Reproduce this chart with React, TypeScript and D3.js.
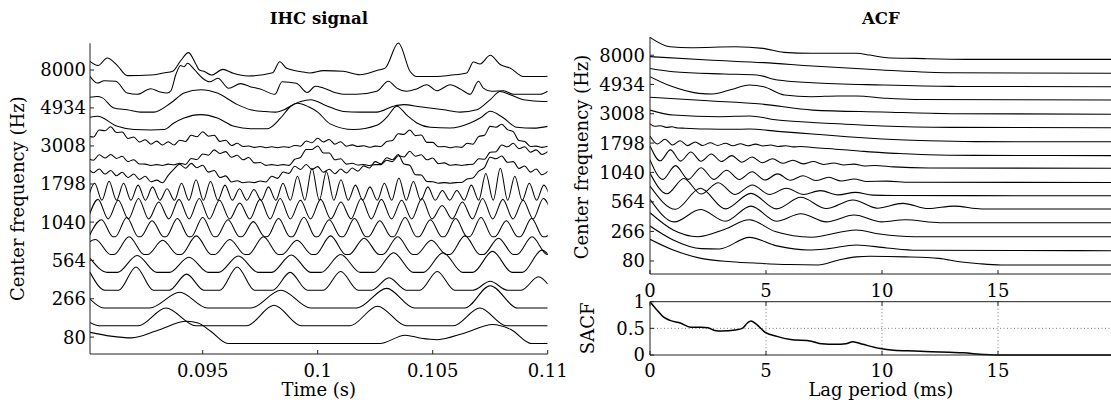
import * as d3 from "d3"

// ---- axis ticks ----
const freqTicks = [80, 266, 564, 1040, 1798, 3008, 4934, 8000]
const timeTicks = [95, 100, 105, 110] // ms
const timeTickLabels = ["0.095", "0.1", "0.105", "0.11"]
const lagTicks = [0, 5, 10, 15]
const sacfTicks = [0, 0.5, 1]

// ---- IHC signal, one list per channel: [time (ms), amplitude] ----
const ihc00 = [[90.1,0.63],[91.0,0.42],[91.9,0.32],[93.0,0.72],[94.3,1.25],[94.8,1.16],[95.35,0.69],[96.1,0],[102.7,0],[103.8,0.47],[104.5,0.3],[105.2,0.22],[106.4,0.6],[107.6,1.07],[108.4,0.79],[109.3,0],[110,0]]
const ihc01 = [[90.1,0.19],[90.5,0],[92.2,0],[93.4,1.0],[94.7,0],[96.9,0],[98.1,1.15],[99.3,0],[101.4,0],[102.6,1.1],[103.85,0],[105.9,0],[107.05,1.0],[108.2,0],[110,0]]
const ihc02 = [[90.1,0.5],[90.7,0],[92.7,0],[94.0,0.88],[95.2,0],[97.1,0],[98.4,1.0],[99.7,0],[101.7,0],[103.0,1.1],[104.2,0],[106.4,0],[107.5,1.25],[108.7,0],[110,0]]
const ihc03 = [[90.1,1.0],[90.75,0],[91.35,0],[92.1,1.3],[92.85,0],[93.55,0],[94.3,0.9],[95.05,0],[95.75,0],[96.5,1.3],[97.25,0],[98.05,0],[98.8,1.0],[99.55,0],[100.25,0],[101.0,1.05],[101.75,0],[102.35,0],[103.1,0.7],[103.85,0],[104.45,0],[105.2,1.05],[105.95,0],[106.75,0],[107.5,0.5],[108.25,0],[108.85,0],[109.6,0.75],[110.0,0.35]]
const ihc04 = [[90.1,0.8],[90.85,0],[91.3,0],[92.15,0.95],[93.0,0],[93.55,0],[94.4,0.85],[95.25,0],[95.7,0],[96.55,0.92],[97.4,0],[98.0,0],[98.85,0.98],[99.7,0],[100.15,0],[101.0,1.0],[101.85,0],[102.45,0],[103.3,1.1],[104.15,0],[104.6,0],[105.45,1.1],[106.3,0],[106.75,0],[107.6,1.18],[108.45,0],[108.9,0],[109.75,1.25],[110.1,0.9]]
const ihc05 = [[89.61,0],[90.34,0.85],[91.0,0],[91.14,0],[91.8,1.0],[92.46,0],[92.6,0],[93.26,0.8],[93.92,0],[94.06,0],[94.72,1.05],[95.38,0],[95.52,0],[96.18,0.85],[96.84,0],[96.98,0],[97.64,1.0],[98.3,0],[98.44,0],[99.1,0.8],[99.76,0],[99.9,0],[100.56,1.05],[101.22,0],[101.36,0],[102.02,0.92],[102.68,0],[102.82,0],[103.48,1.0],[104.14,0],[104.28,0],[104.94,0.8],[105.6,0],[105.74,0],[106.4,1.05],[107.06,0],[107.2,0],[107.86,0.92],[108.52,0],[108.66,0],[109.32,1.0],[109.98,0],[110.12,0]]
const ihc06 = [[90.05,0],[90.6,0.95],[91.1,0],[91.2,0],[91.7,1.08],[92.2,0],[92.3,0],[92.8,0.9],[93.3,0],[93.4,0],[93.9,1.02],[94.4,0],[94.5,0],[95.0,1.08],[95.5,0],[95.6,0],[96.1,0.95],[96.6,0],[96.7,0],[97.2,0.85],[97.7,0],[97.8,0],[98.3,1.02],[98.8,0],[98.9,0],[99.4,1.1],[99.9,0],[100.0,0],[100.5,0.95],[101.0,0],[101.1,0],[101.6,1.02],[102.1,0],[102.2,0],[102.7,0.9],[103.2,0],[103.3,0],[103.8,1.08],[104.3,0],[104.4,0],[104.9,0.95],[105.4,0],[105.5,0],[106.0,1.02],[106.5,0],[106.6,0],[107.1,1.08],[107.6,0],[107.7,0],[108.2,0.9],[108.7,0],[108.8,0],[109.3,1.02],[109.8,0],[109.9,0],[110.4,0.95]]
const ihc07 = [[90.01,0],[90.45,1.1],[90.89,0],[91.33,1.05],[91.77,0],[92.21,1.15],[92.65,0],[93.09,0.95],[93.53,0],[93.97,1.1],[94.41,0],[94.85,1.15],[95.29,0],[95.73,1.05],[96.17,0],[96.61,0.9],[97.05,0],[97.49,1.1],[97.93,0],[98.37,1.15],[98.81,0],[99.25,1.05],[99.69,0],[100.13,1.1],[100.57,0],[101.01,0.95],[101.45,0],[101.89,1.15],[102.33,0],[102.77,1.1],[103.21,0],[103.65,1.05],[104.09,0],[104.53,1.15],[104.97,0],[105.41,0.75],[105.85,0],[106.29,0.95],[106.73,0],[107.17,1.15],[107.61,0],[108.05,1.1],[108.49,0],[108.93,1.05],[109.37,0],[109.81,1.15],[110.25,0]]
const ihc08 = [[89.99,0.05],[90.3,1.0],[90.62,0.05],[90.93,1.12],[91.25,0.05],[91.56,1.0],[91.88,0.05],[92.19,0.9],[92.51,0.05],[92.82,0.8],[93.14,0.05],[93.45,0.7],[93.77,0.05],[94.08,1.0],[94.4,0.05],[94.71,1.2],[95.03,0.05],[95.34,1.1],[95.66,0.05],[95.97,0.9],[96.29,0.05],[96.6,0.7],[96.92,0.05],[97.23,0.65],[97.55,0.05],[97.86,0.8],[98.18,0.05],[98.49,1.0],[98.81,0.05],[99.12,1.4],[99.44,0.05],[99.75,1.85],[100.07,0.05],[100.38,1.65],[100.7,0.05],[101.01,1.2],[101.33,0.05],[101.64,0.9],[101.96,0.05],[102.27,0.8],[102.59,0.05],[102.9,1.0],[103.22,0.05],[103.53,1.3],[103.85,0.05],[104.16,1.1],[104.48,0.05],[104.79,0.8],[105.11,0.05],[105.42,0.6],[105.74,0.05],[106.05,0.6],[106.37,0.05],[106.68,0.9],[107.0,0.05],[107.31,1.55],[107.63,0.05],[107.94,1.85],[108.26,0.05],[108.57,1.4],[108.89,0.05],[109.2,1.0],[109.52,0.05],[109.83,0.9],[110.15,0.05]]
// channels 9-11 are read on a 0.25 ms grid starting at 90 ms
const ihc09 = [0.87,0.6,0.8,0.52,0.72,0.43,0.62,0.33,0.52,0.22,0.4,0.09,0.18,0.03,0.45,0.8,1.07,0.85,1.12,0.88,1.02,0.63,0.72,0.33,0.42,0.08,0.15,0.03,0.08,0.04,0.13,0.08,0.4,0.28,0.64,0.56,0.96,0.78,1.06,0.78,0.94,0.62,0.79,0.54,0.8,0.58,0.86,0.68,0.98,0.86,1.22,1.1,1.44,1.33,1.62,1.08,1.02,0.48,0.47,0.1,0.09,0.01,0.04,0.01,0.04,0.05,0.24,0.3,0.68,0.88,1.47,1.38,1.54,1.18,1.22,0.83,0.97,0.63,0.8,0.48,0.67]
const ihc10 = [0.4,0.3,0.6,0.42,0.62,0.4,0.52,0.22,0.33,0.09,0.08,0,0.05,0,0.08,0.04,0.13,0.06,0.4,0.34,0.65,0.58,0.88,0.68,0.78,0.46,0.58,0.32,0.45,0.15,0.17,0.01,0.05,0,0.05,0.01,0.35,0.45,0.9,0.9,1.1,0.7,0.7,0.32,0.38,0.08,0.13,0.03,0.06,0,0.05,0.05,0.3,0.22,0.55,0.48,0.8,0.52,0.6,0.32,0.42,0.1,0.15,0.02,0.05,0,0.05,0.07,0.38,0.35,0.75,0.78,1.15,1.05,1.25,0.95,1.05,0.75,0.88,0.62,0.78]
const ihc11 = [0.65,0.6,1.0,0.95,1.18,0.85,0.88,0.52,0.6,0.32,0.45,0.2,0.37,0.15,0.34,0.15,0.42,0.35,0.7,0.62,0.9,0.65,0.7,0.35,0.42,0.12,0.25,0.07,0.1,0.02,0.07,0,0.05,0,0.05,0.02,0.13,0.08,0.38,0.28,0.53,0.32,0.46,0.2,0.34,0.08,0.16,0.07,0.11,0.03,0.09,0.07,0.35,0.4,0.78,0.75,1.0,0.68,0.72,0.3,0.3,0.05,0.07,0,0.06,0.02,0.25,0.2,0.63,0.7,1.2,1.15,1.32,1.02,0.9,0.4,0.35,0.07,0.09,0.02,0.08]
const ihc12 = [[90.1,0.71],[90.42,0.77],[91.29,0.2],[92.01,0.02],[92.74,0],[93.32,0.02],[93.75,0.39],[94.19,0.67],[94.91,0.86],[95.64,0.67],[96.36,0.2],[97.09,0.07],[97.81,0.07],[98.39,0.67],[98.83,1.33],[99.12,1.5],[99.6,1.3],[100.0,1.0],[100.54,0.34],[101.55,0.02],[102.57,0.26],[103.0,0.7],[103.44,1.33],[103.9,0.8],[104.31,0.39],[104.89,0.15],[105.76,0.11],[106.63,0.39],[107.1,0.7],[107.5,1.05],[108.08,0.67],[108.66,0.15],[109.4,0.1],[110,0.2]]
const ihc13 = [[90.1,0.83],[90.42,0.88],[90.64,0.8],[91.14,0.23],[91.72,0.13],[92.3,0],[92.88,0],[93.61,0.51],[94.19,1.07],[94.91,1.26],[95.64,1.07],[96.51,0.42],[97.09,0.13],[97.67,0.04],[98.17,0],[98.54,0.13],[98.97,0.45],[99.26,0.6],[99.7,0.7],[100.4,0.35],[101.12,0.04],[101.84,0],[102.57,0],[103.29,0.33],[103.73,0.42],[104.45,0.3],[105.47,0.13],[106.19,0],[106.92,0.13],[107.5,0.7],[107.93,1.16],[108.37,0.98],[108.95,0.7],[109.81,0.6],[110,0.6]]
const ihc14 = [[90.1,1.01],[90.42,0.63],[90.71,0.76],[91.22,0.73],[91.72,0.07],[92.16,0],[92.74,0.31],[93.1,0.15],[93.45,0.07],[93.62,0.2],[93.83,1.1],[94.04,1.62],[94.19,1.55],[94.34,1.74],[94.65,1.37],[95.0,0.9],[95.3,0.7],[95.66,0.9],[96.13,0.34],[96.65,0.6],[97.06,0.43],[97.5,0.3],[98.14,0],[98.45,0.71],[99.07,0.62],[99.55,0.1],[99.9,0.45],[100.25,0.35],[100.83,0.07],[101.12,0],[101.7,0],[102.57,0.17],[103.07,0.73],[103.44,0.35],[103.87,0.17],[104.3,0.3],[104.74,0.54],[105.18,0.2],[105.76,0.54],[106.2,0.3],[106.63,0],[106.99,0.73],[107.2,0.35],[107.57,0.17],[108.08,0.2],[108.51,0],[109.67,0],[110.0,0.17]]
const ihc15 = [[90.1,0.85],[90.45,0.62],[90.85,1.04],[91.3,0.6],[91.72,0.05],[92.74,0.08],[93.3,0.2],[93.7,0.3],[94.05,0.9],[94.38,1.34],[94.7,0.7],[94.84,0.38],[95.09,0.27],[95.39,0.08],[95.87,0.4],[96.33,0.18],[96.96,0.03],[98.04,0.21],[98.35,0.83],[98.65,0.46],[99.29,0.27],[99.67,0.2],[100.25,0.33],[101.1,0.29],[101.84,0.1],[102.6,0.35],[102.93,0.47],[103.51,1.88],[104.02,0.28],[104.3,0],[105.2,0],[105.75,0.07],[106.48,0.2],[106.77,0.81],[107.06,0.7],[107.5,1.19],[107.95,0.66],[108.36,0.48],[108.94,0],[109.8,0],[110.0,0.02]]

// ---- ACF per channel: [lag (ms), value] ----
const acf00 = [[0,1.58],[1.0,0.8],[2.2,0.19],[3.5,-0.05],[4.73,-0.17],[6.0,-0.26],[7.25,-0.29],[8.1,0.05],[8.9,0.3],[9.5,0.34],[11.0,0.3],[12.45,0.19],[13.34,-0.05],[14.2,-0.2],[15.13,-0.29],[19.9,-0.29]]
const acf01 = [[0,1.55],[1.0,0.53],[2.2,-0.1],[3.0,-0.12],[4.28,0.72],[5.47,0.1],[6.8,-0.2],[7.6,-0.12],[8.89,0.17],[10.2,-0.05],[11.5,-0.22],[19.9,-0.25]]
const acf02 = [[0,1.52],[1.0,0.26],[2.05,-0.23],[3.2,0.3],[4.28,1.0],[5.4,0.14],[6.95,-0.27],[8.89,0.26],[9.9,-0.03],[11.4,-0.23],[19.9,-0.24]]
const acf03 = [[0,1.5],[1.05,-0.15],[2.17,0.75],[3.25,-0.1],[4.35,1.0],[5.45,-0.1],[6.5,0.45],[7.6,-0.15],[8.8,0.35],[10.0,-0.15],[11.0,0.0],[12.5,-0.21],[19.9,-0.21]]
const acf04 = [[0,1.46],[1.1,-0.23],[2.17,1.3],[3.25,-0.2],[4.35,0.93],[5.45,-0.2],[6.5,0.64],[7.6,-0.18],[8.75,0.45],[9.8,-0.15],[10.9,0.2],[12.0,-0.18],[13.1,0.0],[14.3,-0.21],[19.9,-0.21]]
const acf05 = [[0,1.39],[0.73,-0.1],[1.46,1.02],[2.2,-0.12],[2.94,0.71],[3.67,-0.15],[4.41,0.54],[5.15,-0.15],[5.88,0.3],[6.62,-0.15],[7.35,0.13],[8.1,-0.18],[8.85,0.0],[9.6,-0.2],[10.5,-0.22],[19.9,-0.25]]
const acf06 = [[0,1.36],[0.55,-0.05],[1.1,0.95],[1.65,-0.05],[2.2,0.8],[2.75,-0.05],[3.3,0.62],[3.85,-0.06],[4.4,0.5],[4.95,-0.1],[5.5,0.35],[6.05,-0.12],[6.6,0.22],[7.15,-0.14],[7.7,0.1],[8.25,-0.17],[8.8,-0.02],[9.35,-0.2],[10.2,-0.18],[11.2,-0.26],[19.9,-0.28]]
const acf07 = [[0,1.4],[0.44,0.3],[0.88,1.1],[1.32,0.28],[1.76,0.95],[2.2,0.27],[2.64,0.8],[3.08,0.25],[3.52,0.68],[3.96,0.2],[4.4,0.58],[4.84,0.16],[5.28,0.46],[5.72,0.12],[6.16,0.35],[6.6,0.08],[7.04,0.25],[7.48,0.04],[7.92,0.15],[8.36,0.0],[8.8,0.06],[9.24,-0.07],[9.68,-0.04],[10.5,-0.14],[12.0,-0.22],[19.9,-0.24]]
const acf08 = [[0,1.11],[0.32,0.53],[0.65,0.87],[0.97,0.45],[1.3,0.77],[1.62,0.41],[1.95,0.68],[2.27,0.42],[2.6,0.62],[2.92,0.42],[3.25,0.58],[3.57,0.4],[3.9,0.55],[4.22,0.4],[4.55,0.52],[4.87,0.38],[5.2,0.45],[5.52,0.35],[5.85,0.4],[6.17,0.32],[6.5,0.35],[7.0,0.27],[8.0,0.15],[9.0,0.02],[10.0,-0.1],[11.0,-0.18],[12.0,-0.25],[14.0,-0.3],[19.9,-0.32]]
const acf09 = [[0,0.99],[0.2,0.82],[0.45,0.86],[0.7,0.74],[0.95,0.78],[1.2,0.7],[1.5,0.68],[2.5,0.62],[3.5,0.6],[4.3,0.62],[5.5,0.45],[7.0,0.26],[8.5,0.06],[10.0,-0.1],[12.0,-0.24],[14.0,-0.3],[19.9,-0.31]]
const acf10 = [[0,1.0],[1.0,0.64],[3.0,0.52],[4.3,0.57],[5.5,0.28],[7.0,0.1],[8.3,-0.01],[10.0,-0.16],[13.0,-0.26],[19.9,-0.28]]
const acf11 = [[0,0.93],[2.5,0.68],[4.8,0.44],[7.0,0.0],[10.0,-0.14],[13.0,-0.26],[19.9,-0.3]]
const acf12 = [[0,1.44],[0.9,0.75],[2.1,0.22],[2.7,0.17],[3.5,0.5],[4.28,0.83],[4.9,0.71],[5.8,0.1],[6.95,-0.02],[8.1,0.03],[8.9,0.03],[10.2,-0.14],[11.4,-0.22],[19.9,-0.26]]
const acf13 = [[0,1.04],[1.0,0.8],[3.2,0.63],[4.6,0.56],[5.5,0.19],[7.0,0.0],[10.0,-0.17],[13.0,-0.27],[19.9,-0.3]]
const acf14 = [[0,0.9],[2.5,0.65],[4.9,0.46],[7.0,0.21],[10.0,-0.08],[13.0,-0.28],[19.9,-0.32]]
const acf15 = [[0,1.3],[0.86,0.62],[1.75,0.55],[3.68,0.62],[4.87,0.5],[5.77,0.21],[6.95,0.14],[8.14,0.14],[8.89,0.14],[9.48,0.01],[10.22,-0.18],[11.41,-0.23],[13.64,-0.3],[19.9,-0.3]]

// ---- summary ACF ----
const sacfLag = [0,0.27,0.56,0.86,1.31,1.75,2.2,2.5,2.79,3.09,3.68,3.98,4.2,4.35,4.58,4.95,5.47,6.06,6.95,7.4,8.0,8.44,8.74,9.18,9.93,10.5,11.4,12.9,13.5,14.4,15.0,19.9]
const sacfVal = [1.0,0.86,0.72,0.65,0.6,0.52,0.52,0.51,0.46,0.45,0.47,0.5,0.6,0.64,0.58,0.43,0.35,0.29,0.26,0.21,0.2,0.21,0.25,0.2,0.12,0.09,0.075,0.05,0.04,0.01,0,0]

const W = 1111
const H = 405
const FONT = "'DejaVu Serif', serif"
const ihcBase = 0.365 // rectified signal sits slightly below its channel line

// channels are spaced evenly on the ERB-rate scale between the lowest and highest tick
const erbRate = (f: number) => 21.4 * Math.log10(1 + 0.00437 * f)
const chanOf = (f: number) =>
  ((erbRate(f) - erbRate(freqTicks[0])) /
    (erbRate(freqTicks[freqTicks.length - 1]) - erbRate(freqTicks[0]))) * 15

const gridT = d3.range(ihc09.length).map((k) => 90 + 0.25 * k)
const onGrid = (vals: number[]) => vals.map((v, k) => [gridT[k], v])

const ihcChannels = [ihc00, ihc01, ihc02, ihc03, ihc04, ihc05, ihc06, ihc07, ihc08,
  onGrid(ihc09), onGrid(ihc10), onGrid(ihc11), ihc12, ihc13, ihc14, ihc15]
const acfChannels = [acf00, acf01, acf02, acf03, acf04, acf05, acf06, acf07,
  acf08, acf09, acf10, acf11, acf12, acf13, acf14, acf15]

export default function App() {
  const xL = d3.scaleLinear().domain([90.1, 110]).range([90, 547.7])
  const yL = d3.scaleLinear().domain([-0.95, 16.5]).range([354, 43.3])
  const xR = d3.scaleLinear().domain([0, 19.9]).range([650, 1111.7])
  const yR = d3.scaleLinear().domain([-0.95, 16.33]).range([274, 37])
  const yS = d3.scaleLinear().domain([0, 1]).range([355, 301.7])

  const ihcPath = (pts: number[][], ch: number) =>
    d3.line<number[]>()
      .x((d) => xL(d[0]))
      .y((d) => yL(ch + d[1] - ihcBase))
      .curve(d3.curveMonotoneX)(pts) || ""

  const acfPath = (pts: number[][], ch: number) =>
    d3.line<number[]>()
      .x((d) => xR(d[0]))
      .y((d) => yR(ch + d[1]))
      .curve(d3.curveMonotoneX)(pts) || ""

  const sacfPath =
    d3.line<number>()
      .x((_, i) => xR(sacfLag[i]))
      .y((d) => yS(d))
      .curve(d3.curveMonotoneX)(sacfVal) || ""

  const [l0, l1] = xL.range()
  const [r0] = xR.range()

  return (
    <div style={{ position: "absolute", left: 0, top: 0 }}>
      <svg width={W} height={H} style={{ display: "block", background: "#fff" }} fontFamily={FONT}>
        <defs>
          <clipPath id="clipL">
            <rect x={l0} y={0} width={l1 - l0} height={H} />
          </clipPath>
          <clipPath id="clipR">
            <rect x={r0} y={0} width={W - r0} height={H} />
          </clipPath>
        </defs>

        {/* ---------- IHC signal ---------- */}
        <text x={(l0 + l1) / 2} y={24} textAnchor="middle" fontSize={16.5} fontWeight="bold">IHC signal</text>
        <g clipPath="url(#clipL)" fill="none" stroke="#000" strokeWidth={1.05}>
          {ihcChannels.map((pts, ch) => (
            <path key={ch} d={ihcPath(pts, ch)} />
          ))}
        </g>
        <line x1={l0} x2={l0} y1={yL.range()[1]} y2={yL.range()[0]} stroke="#222" />
        <line x1={l0} x2={l1} y1={yL.range()[0]} y2={yL.range()[0]} stroke="#222" />
        {freqTicks.map((f) => (
          <g key={f}>
            <line x1={l0} x2={l0 + 4} y1={yL(chanOf(f))} y2={yL(chanOf(f))} stroke="#222" />
            <text x={l0 - 4} y={yL(chanOf(f))} dy="0.36em" textAnchor="end" fontSize={18}>{f}</text>
          </g>
        ))}
        {timeTicks.map((t, i) => (
          <g key={t}>
            <line x1={xL(t)} x2={xL(t)} y1={354} y2={350} stroke="#222" />
            <text x={xL(t)} y={377} textAnchor="middle" fontSize={18}>{timeTickLabels[i]}</text>
          </g>
        ))}
        <text x={(l0 + l1) / 2} y={396} textAnchor="middle" fontSize={18}>Time (s)</text>
        <text transform={`translate(24,${(yL.range()[0] + yL.range()[1]) / 2}) rotate(-90)`} textAnchor="middle" fontSize={18}>
          Center frequency (Hz)
        </text>

        {/* ---------- ACF ---------- */}
        <text x={(r0 + xR.range()[1]) / 2} y={24} textAnchor="middle" fontSize={16.5} fontWeight="bold">ACF</text>
        <g clipPath="url(#clipR)" fill="none" stroke="#000" strokeWidth={1.05}>
          {acfChannels.map((pts, ch) => (
            <path key={ch} d={acfPath(pts, ch)} />
          ))}
        </g>
        <line x1={r0} x2={r0} y1={yR.range()[1]} y2={yR.range()[0]} stroke="#222" />
        <line x1={r0} x2={W} y1={yR.range()[0]} y2={yR.range()[0]} stroke="#222" />
        {freqTicks.map((f) => (
          <g key={f}>
            <line x1={r0} x2={r0 + 4} y1={yR(chanOf(f))} y2={yR(chanOf(f))} stroke="#222" />
            <text x={r0 - 5} y={yR(chanOf(f))} dy="0.36em" textAnchor="end" fontSize={18}>{f}</text>
          </g>
        ))}
        {lagTicks.map((t) => (
          <g key={t}>
            <line x1={xR(t)} x2={xR(t)} y1={274} y2={270} stroke="#222" />
            <text x={xR(t)} y={297} textAnchor="middle" fontSize={18}>{t}</text>
          </g>
        ))}
        <text transform={`translate(588,157) rotate(-90)`} textAnchor="middle" fontSize={18}>
          Center frequency (Hz)
        </text>

        {/* ---------- SACF ---------- */}
        <g stroke="#555" strokeWidth={0.8} strokeDasharray="1,2.5">
          {lagTicks.slice(1).map((t) => (
            <line key={t} x1={xR(t)} x2={xR(t)} y1={yS(1)} y2={yS(0)} />
          ))}
          <line x1={r0} x2={W} y1={yS(0.5)} y2={yS(0.5)} />
        </g>
        <g clipPath="url(#clipR)">
          <path d={sacfPath} fill="none" stroke="#000" strokeWidth={1.5} />
        </g>
        <line x1={r0} x2={r0} y1={yS(1)} y2={yS(0)} stroke="#222" />
        <line x1={r0} x2={W} y1={yS(1)} y2={yS(1)} stroke="#222" />
        <line x1={r0} x2={W} y1={yS(0)} y2={yS(0)} stroke="#222" />
        {lagTicks.map((t) => (
          <g key={t}>
            <line x1={xR(t)} x2={xR(t)} y1={yS(0)} y2={yS(0) - 4} stroke="#222" />
            <line x1={xR(t)} x2={xR(t)} y1={yS(1)} y2={yS(1) + 4} stroke="#222" />
            <text x={xR(t)} y={377} textAnchor="middle" fontSize={18}>{t}</text>
          </g>
        ))}
        {sacfTicks.map((v) => (
          <g key={v}>
            <line x1={r0} x2={r0 + 4} y1={yS(v)} y2={yS(v)} stroke="#222" />
            <text x={r0 - 5} y={yS(v)} dy="0.36em" textAnchor="end" fontSize={18}>{v}</text>
          </g>
        ))}
        <text x={(r0 + xR.range()[1]) / 2} y={396} textAnchor="middle" fontSize={18}>Lag period (ms)</text>
        <text transform={`translate(594,${(yS(0) + yS(1)) / 2}) rotate(-90)`} textAnchor="middle" fontSize={18}>
          SACF
        </text>
      </svg>
    </div>
  )
}
